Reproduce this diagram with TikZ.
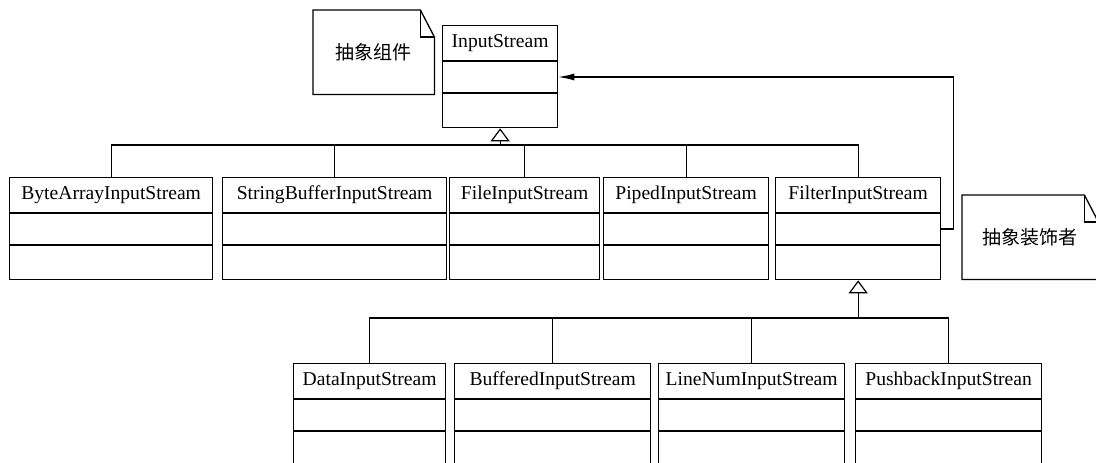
\documentclass[tikz,border=0pt]{standalone}
\usepackage{fontspec}
\setmainfont{Liberation Serif}
\newfontfamily\cjk{Noto Sans CJK SC}
\usetikzlibrary{arrows.meta, positioning, calc}

\tikzset{
  cls/.style={draw, line width=1.3pt, minimum height=102pt, inner sep=0pt},
  clsname/.style={inner sep=0pt, font=\fontsize{19.6}{23}\selectfont},
  notetext/.style={inner sep=0pt, font=\cjk\fontsize{19}{23}\selectfont},
  conn/.style={line width=1.2pt},
}

% class box: name, left, right, top, title
\newcommand{\classbox}[5]{%
  \node[cls, minimum width={#3-#2}, anchor=north west] (#1) at (#2,#4) {};
  \node[clsname] (#1-t) at ([yshift=-18pt]#1.north) {#5};
  \draw[line width=1.3pt] ([yshift=-36pt]#1.north west) -- ([yshift=-36pt]#1.north east);
  \draw[line width=1.3pt] ([yshift=-68pt]#1.north west) -- ([yshift=-68pt]#1.north east);
}
% note with folded corner: name, left, right, top, bottom, text
\newcommand{\notebox}[6]{%
  \node[notetext, minimum width={#3-#2}, minimum height={#5-#4}, anchor=north west] (#1) at (#2,#4) {#6};
  \draw[line width=1.3pt] (#1.north west) -- ([xshift=-14pt]#1.north east) -- ([yshift=-27pt]#1.north east)
    -- (#1.south east) -- (#1.south west) -- cycle;
  \draw[line width=1.3pt] ([xshift=-14pt]#1.north east) |- ([yshift=-27pt]#1.north east);
}

\begin{document}
\begin{tikzpicture}[x=1pt, y=-1pt]
    \useasboundingbox (0,0) rectangle (1096,463);
    \clip (0,0) rectangle (1096,463);

    % notes
    \notebox{compnote}{313}{434}{10}{94}{抽象组件}
    \notebox{decnote}{962}{1098}{195}{279}{抽象装饰者}

    % classes
    \classbox{InputStream}{442}{557}{25}{InputStream}
    \classbox{ByteArray}{9}{212}{177}{ByteArrayInputStream}
    \classbox{StringBuffer}{222}{446}{177}{StringBufferInputStream}
    \classbox{File}{449}{599}{177}{FileInputStream}
    \classbox{Piped}{603}{768}{177}{PipedInputStream}
    \classbox{Filter}{775}{940}{177}{FilterInputStream}
    \classbox{Data}{293}{445}{363}{DataInputStream}
    \classbox{Buffered}{454}{650}{363}{BufferedInputStream}
    \classbox{LineNum}{658}{844}{363}{LineNumInputStream}
    \classbox{Pushback}{855}{1041}{363}{PushbackInputStrean}

    % inheritance from InputStream
    \coordinate (bus1) at ([yshift=32pt]ByteArray.north);
    \draw[conn] (ByteArray.north) -- (bus1) -| (Filter.north);
    \foreach \c in {StringBuffer,File,Piped}
        \draw[conn] (\c.north) -- (\c.north |- bus1);
    \draw[conn, -{Triangle[open, length=13pt, width=19pt]}] (InputStream.south |- bus1) -- (InputStream.south);

    % inheritance from FilterInputStream
    \coordinate (bus2) at ([yshift=45pt]Data.north);
    \draw[conn] (Data.north) -- (bus2) -| (Pushback.north);
    \foreach \c in {Buffered,LineNum}
        \draw[conn] (\c.north) -- (\c.north |- bus2);
    \draw[conn, -{Triangle[open, length=13pt, width=19pt]}] (Filter.south |- bus2) -- (Filter.south);

    % FilterInputStream holds an InputStream
    \draw[conn, -{Latex[length=16pt, width=7pt]}] ([yshift=-52pt]Filter.north east) -- ++(12,0)
        |- ([yshift=-52pt]InputStream.north east);
\end{tikzpicture}
\end{document}
